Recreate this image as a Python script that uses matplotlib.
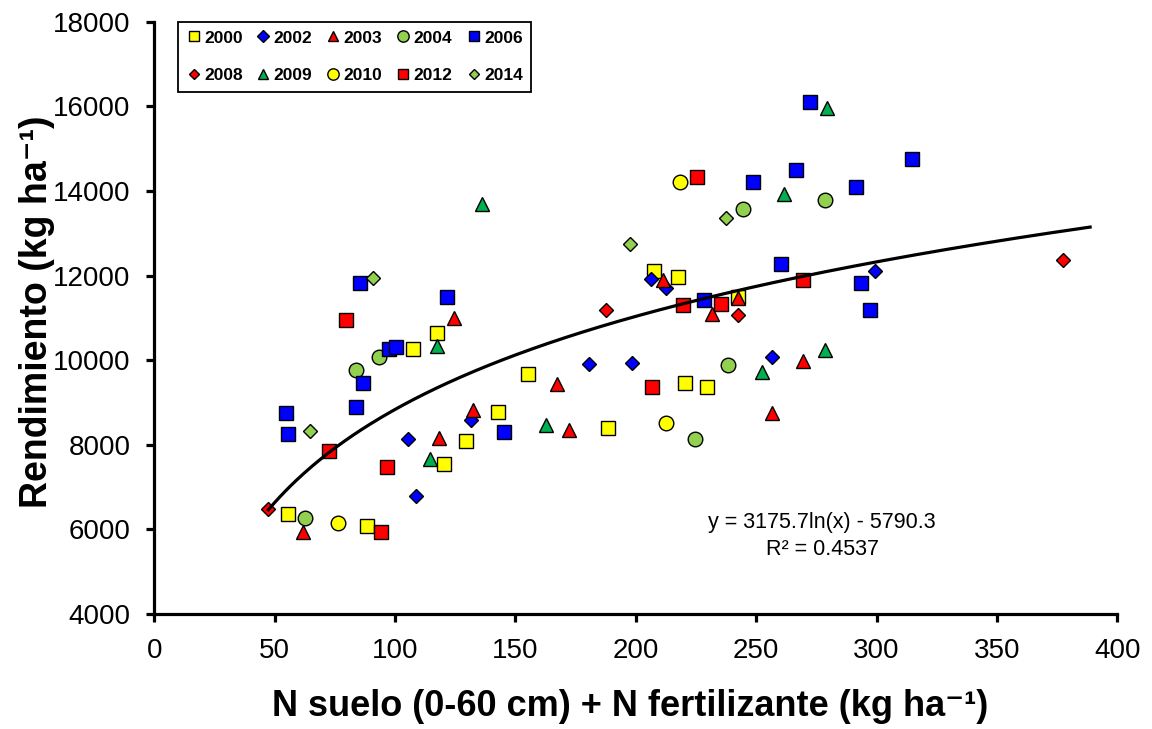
import numpy as np
import matplotlib.pyplot as plt

plt.rcParams['font.family'] = ['Liberation Sans', 'DejaVu Sans']

# datos por campaña (N disponible, rendimiento)
x_2000 = [55.4, 88.5, 107.6, 117.5, 120.5, 129.5, 142.7, 155.4, 188.5, 207.6, 217.5, 220.6, 229.4, 242.6]
y_2000 = [6356, 6080, 10263, 10634, 7545, 8096, 8775, 9672, 8389, 12114, 11972, 9452, 9358, 11500]

x_2002 = [105.5, 108.6, 131.4, 180.6, 198.6, 206.4, 212.5, 256.6, 299.5]
y_2002 = [8136, 6796, 8585, 9909, 9925, 11925, 11698, 10067, 12114]

x_2003 = [61.6, 124.5, 118.4, 132.2, 167.4, 172.4, 211.4, 231.5, 242.6, 269.4, 256.6]
y_2003 = [5946, 10989, 8167, 8822, 9436, 8349, 11894, 11090, 11461, 9987, 8758]

x_2004 = [62.6, 83.7, 93.5, 238.4, 224.6, 244.5, 278.6]
y_2004 = [6276, 9767, 10082, 9885, 8136, 13565, 13785]

x_2006 = [54.7, 55.5, 83.7, 86.6, 85.6, 97.5, 100.5, 121.6, 145.4, 228.3, 248.6, 266.4, 272.4,
          260.4, 291.5, 293.4, 297.4, 314.6]
y_2006 = [8758, 8247, 8885, 9452, 11823, 10256, 10318, 11500, 8309, 11421, 14210, 14501, 16101,
          12265, 14099, 11816, 11185, 14747]

x_2008 = [47.4, 187.5, 242.6, 377.4]
y_2008 = [6482, 11178, 11067, 12359]

x_2009 = [114.4, 117.4, 136.0, 162.6, 261.4, 279.6, 252.5, 278.6]
y_2009 = [7656, 10342, 13690, 8467, 13927, 15952, 9727, 10240]

x_2010 = [76.2, 212.7, 218.5]
y_2010 = [6143, 8507, 14218]

x_2012 = [72.6, 79.6, 94.2, 96.7, 206.6, 219.5, 225.4, 235.5, 269.6]
y_2012 = [7852, 10949, 5946, 7482, 9358, 11311, 14321, 11320, 11894]

x_2014 = [64.7, 90.7, 197.6, 237.5]
y_2014 = [8325, 11949, 12752, 13359]

# ajuste logaritmico
a, b = 3175.7, -5790.3
x_min, x_max = 47.4, 388.7

series = [
    ('2000', x_2000, y_2000, 's', 10, '#FFFF00'),
    ('2002', x_2002, y_2002, 'D', 7.5, '#0000FF'),
    ('2003', x_2003, y_2003, '^', 10, '#FF0000'),
    ('2004', x_2004, y_2004, 'o', 10.5, '#92D050'),
    ('2006', x_2006, y_2006, 's', 10, '#0000FF'),
    ('2008', x_2008, y_2008, 'D', 6.8, '#FF0000'),
    ('2009', x_2009, y_2009, '^', 10, '#00B050'),
    ('2010', x_2010, y_2010, 'o', 10.5, '#FFFF00'),
    ('2012', x_2012, y_2012, 's', 10, '#FF0000'),
    ('2014', x_2014, y_2014, 'D', 6.7, '#92D050'),
]

fig = plt.figure(figsize=(11.52, 7.29), dpi=100)
ax = fig.add_axes([0.1339, 0.1578, 0.836, 0.8124])

handles = []
for name, xs, ys, m, ms, c in series:
    h, = ax.plot(xs, ys, linestyle='none', marker=m, ms=ms, mfc=c, mec='black', mew=1.0,
                 label=name, zorder=3)
    handles.append(h)

xf = np.linspace(x_min, x_max, 300)
ax.plot(xf, a * np.log(xf) + b, color='black', lw=2.3, zorder=4)

ax.text(277.4, 6151, 'y = 3175.7ln(x) - 5790.3', fontsize=15.5, ha='center', va='center')
ax.text(277.4, 5513, 'R² = 0.4537', fontsize=15.5, ha='center', va='center')

ax.set_xlim(0, 400)
ax.set_ylim(4000, 18000)
ax.set_xticks(np.arange(0, 401, 50))
ax.set_yticks(np.arange(4000, 18001, 2000))

for s in ['top', 'right']:
    ax.spines[s].set_visible(False)
for s in ['left', 'bottom']:
    ax.spines[s].set_linewidth(2.3)
ax.tick_params(direction='out', length=6, width=2.3, labelsize=20, pad=11)

ax.set_xlabel('N suelo (0-60 cm) + N fertilizante (kg ha⁻¹)', fontsize=26, fontweight='bold')
ax.xaxis.label.set_va('center')
ax.xaxis.set_label_coords(0.494, -0.157)
ax.set_ylabel('Rendimiento (kg ha⁻¹)', fontsize=27, fontweight='bold')
ax.yaxis.label.set_va('center')
ax.yaxis.set_label_coords(-0.122, 0.51)

# la leyenda se llena por columnas: reordenar para tener filas 2000..2006 / 2008..2014
order = [0, 5, 1, 6, 2, 7, 3, 8, 4, 9]
leg = ax.legend([handles[i] for i in order], [series[i][0] for i in order],
                ncol=5, loc='upper left', bbox_to_anchor=(0.0246, 1.0), borderaxespad=0,
                fancybox=False, framealpha=1, edgecolor='black', markerscale=0.78,
                handlelength=0.8, handletextpad=0.2, columnspacing=0.8, labelspacing=1.3,
                prop={'weight': 'bold', 'size': 12.5}, borderpad=0.5)
leg.get_frame().set_linewidth(1.3)

fig.savefig('out.png', dpi=100)
